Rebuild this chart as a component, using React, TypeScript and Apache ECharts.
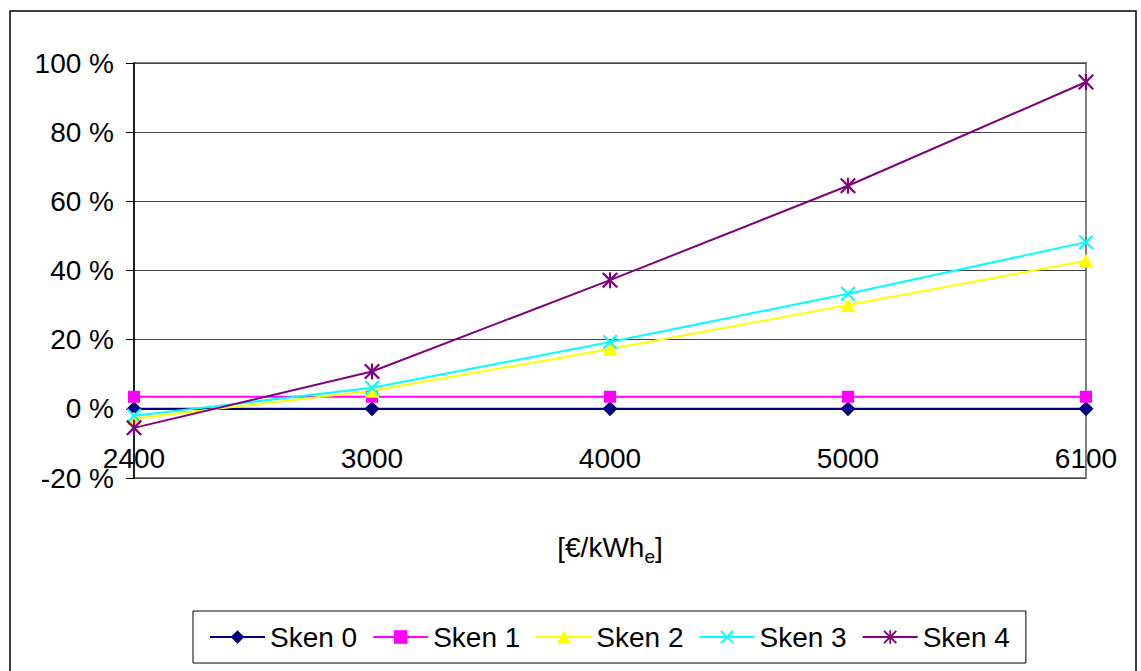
import React, { useEffect, useRef } from 'react';
import * as echarts from 'echarts';

const categories = ['2400', '3000', '4000', '5000', '6100'];
const seriesNames = ['Sken 0', 'Sken 1', 'Sken 2', 'Sken 3', 'Sken 4'];
const sken0 = [0, 0, 0, 0, 0];
const sken1 = [3.5, 3.5, 3.5, 3.5, 3.5];
const sken2 = [-2.8, 5.2, 17.3, 30.0, 42.8];
const sken3 = [-2.0, 6.1, 19.3, 33.3, 48.2];
const sken4 = [-5.5, 10.8, 37.2, 64.5, 94.5];
const yMin = -20;
const yMax = 100;
const yStep = 20;

const FONT = '"Liberation Sans", Arial, sans-serif';
const X_PATH = 'path://M0,2L2,0L10,8L18,0L20,2L12,10L20,18L18,20L10,12L2,20L0,18L8,10Z';
const STAR_PATH = 'path://M0,2L2,0L10,8L18,0L20,2L12,10L20,18L18,20L10,12L2,20L0,18L8,10ZM8.7,0L11.3,0L11.3,20L8.7,20Z';

const seriesDefs = [
  { name: seriesNames[0], data: sken0, color: '#000080', symbol: 'diamond', size: [15, 15] },
  { name: seriesNames[1], data: sken1, color: '#FF00FF', symbol: 'rect', size: [12, 12] },
  { name: seriesNames[2], data: sken2, color: '#FFFF00', symbol: 'triangle', size: [15, 14] },
  { name: seriesNames[3], data: sken3, color: '#00FFFF', symbol: X_PATH, size: [15, 15] },
  { name: seriesNames[4], data: sken4, color: '#800080', symbol: STAR_PATH, size: [16, 16] },
];

export default function App() {
  const ref = useRef<HTMLDivElement>(null);
  useEffect(() => {
    if (!ref.current) return;
    const chart = echarts.init(ref.current, null, { renderer: 'svg' });
    chart.setOption({
      animation: false,
      backgroundColor: '#fff',
      textStyle: { fontFamily: FONT },
      grid: {
        left: 134,
        top: 63,
        width: 952,
        height: 415,
        show: true,
        borderColor: '#808080',
        borderWidth: 2,
        backgroundColor: 'transparent',
      },
      legend: {
        left: 193,
        top: 611,
        padding: [12, 16],
        itemWidth: 55,
        itemHeight: 17,
        itemGap: 15,
        borderColor: '#000',
        borderWidth: 1,
        textStyle: { fontSize: 28, fontFamily: FONT, color: '#000' },
        data: seriesNames,
      },
      xAxis: {
        type: 'category',
        data: categories,
        boundaryGap: false,
        axisLine: { show: true, onZero: true, lineStyle: { color: '#000', width: 1 } },
        axisTick: { show: false },
        axisLabel: { interval: 0, margin: -34, fontSize: 28, color: '#000', fontFamily: FONT },
        splitLine: { show: false },
      },
      yAxis: {
        type: 'value',
        min: yMin,
        max: yMax,
        interval: yStep,
        axisLine: { show: true, lineStyle: { color: '#000', width: 1.5 } },
        axisTick: { show: true, length: 8, lineStyle: { color: '#000' } },
        axisLabel: { formatter: '{value} %', margin: 20, fontSize: 28, color: '#000', fontFamily: FONT },
        splitLine: { show: true, lineStyle: { color: '#444', width: 1 } },
      },
      graphic: [
        {
          type: 'rect',
          silent: true,
          z: -10,
          shape: { x: 10, y: 11, width: 1126, height: 700 },
          style: { fill: 'none', stroke: '#000', lineWidth: 1.5 },
        },
        {
          type: 'text',
          x: 610,
          y: 533,
          style: {
            text: '{a|[€/kWh}{b|e}{a|]}',
            align: 'center',
            verticalAlign: 'top',
            fontFamily: FONT,
            fontSize: 28,
            fill: '#000',
            rich: {
              a: { fontSize: 28, lineHeight: 28, fontFamily: FONT, fill: '#000', verticalAlign: 'top' },
              b: { fontSize: 19, lineHeight: 20, fontFamily: FONT, fill: '#000', verticalAlign: 'top', padding: [14, 0, 0, 0] },
            },
          },
        },
      ],
      series: seriesDefs.map((s) => ({
        name: s.name,
        type: 'line',
        data: s.data,
        symbol: s.symbol,
        symbolSize: s.size,
        showAllSymbol: true,
        lineStyle: { color: s.color, width: 2 },
        itemStyle: { color: s.color, borderWidth: 0 },
        emphasis: { disabled: true },
      })),
    });
    return () => chart.dispose();
  }, []);
  return <div ref={ref} style={{ position: 'absolute', left: 0, top: 0, width: 1141, height: 671 }} />;
}
